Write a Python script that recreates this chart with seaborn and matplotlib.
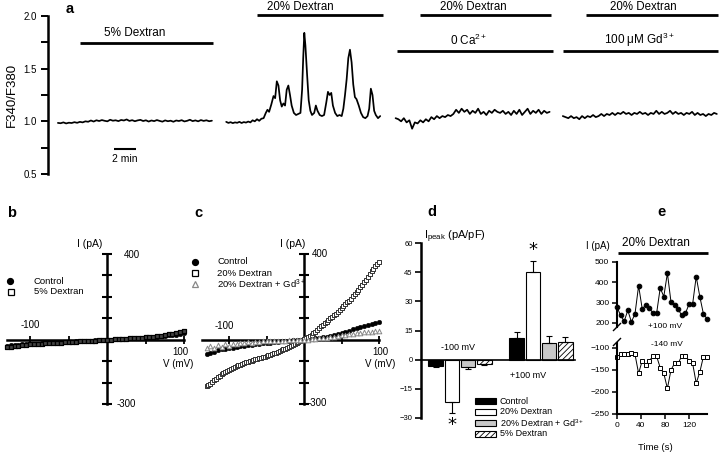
import numpy as np
import pandas as pd
import matplotlib
matplotlib.use("Agg")
import matplotlib.pyplot as plt
import seaborn as sns
from matplotlib.lines import Line2D
from matplotlib.patches import Rectangle

# ---------------- data ----------------
# panel a : F340/F380 ratio traces (time in min)
seg1_start, seg1_step = 0.9, 0.25
seg1_ratio = [0.985, 0.982, 0.990, 0.980, 0.987, 0.984, 0.992, 0.986, 0.995, 0.990,
              1.000, 0.996, 1.008, 0.998, 1.010, 1.003, 1.012, 1.005, 1.000, 1.015,
              1.006, 1.010, 1.002, 1.013, 1.008, 1.018, 1.004, 1.011, 1.001, 1.009,
              1.014, 1.003, 1.010, 0.998, 1.008, 1.002, 1.012, 1.004, 0.997, 1.009,
              1.001, 1.006, 0.996, 1.008, 1.003, 1.011, 0.999, 1.005, 1.015, 1.002,
              1.009, 1.000, 1.012, 1.004, 1.010, 1.001, 1.006]
seg2_time = [16.2, 16.4, 16.6, 16.8, 17.0, 17.2, 17.4, 17.6, 17.8, 18.0, 18.2, 18.4,
             18.6, 18.8, 19.0, 19.2, 19.4, 19.6, 19.8, 19.95, 20.1, 20.3, 20.5, 20.65,
             20.8, 20.95, 21.1, 21.25, 21.4, 21.55, 21.7, 21.85, 22.0, 22.15, 22.35,
             22.55, 22.75, 22.95, 23.1, 23.2, 23.3, 23.4, 23.55, 23.7, 23.85, 24.0,
             24.2, 24.35, 24.5, 24.7, 24.9, 25.1, 25.3, 25.45, 25.6, 25.75, 25.9,
             26.1, 26.3, 26.5, 26.7, 26.85, 27.0, 27.15, 27.3, 27.45, 27.6, 27.75,
             27.9, 28.05, 28.25, 28.45, 28.65, 28.85, 29.05, 29.2, 29.35, 29.5,
             29.65, 29.8, 30.0, 30.2]
seg2_ratio = [0.995, 0.985, 0.992, 0.983, 0.990, 0.986, 0.995, 0.984, 0.993, 0.988,
              0.998, 0.990, 1.010, 1.000, 1.020, 1.005, 1.025, 1.030, 1.080, 1.110,
              1.090, 1.160, 1.240, 1.220, 1.380, 1.340, 1.200, 1.140, 1.170, 1.150,
              1.300, 1.340, 1.250, 1.150, 1.080, 1.060, 1.070, 1.080, 1.300, 1.600,
              1.840, 1.720, 1.450, 1.200, 1.100, 1.060, 1.080, 1.150, 1.100, 1.060,
              1.050, 1.060, 1.180, 1.280, 1.250, 1.270, 1.150, 1.080, 1.050, 1.060,
              1.050, 1.120, 1.250, 1.400, 1.600, 1.680, 1.560, 1.350, 1.230, 1.210,
              1.150, 1.080, 1.040, 1.030, 1.050, 1.120, 1.310, 1.250, 1.100, 1.060,
              1.030, 1.050]
seg3_start, seg3_step = 31.6, 0.25
seg3_ratio = [1.03, 1.02, 1.00, 1.03, 0.99, 1.01, 0.93, 0.99, 0.98, 1.01, 0.99, 1.02,
              1.00, 1.04, 1.02, 1.05, 1.03, 1.05, 1.04, 1.06, 1.05, 1.07, 1.11, 1.08,
              1.12, 1.09, 1.11, 1.07, 1.10, 1.08, 1.12, 1.07, 1.09, 1.06, 1.10, 1.08,
              1.11, 1.09, 1.08, 1.10, 1.07, 1.09, 1.06, 1.10, 1.07, 1.11, 1.06, 1.09,
              1.12, 1.07, 1.10, 1.08, 1.11, 1.07, 1.10, 1.08, 1.09]
seg4_start, seg4_step = 46.8, 0.25
seg4_ratio = [1.05, 1.04, 1.03, 1.05, 1.03, 1.04, 1.02, 1.05, 1.03, 1.05, 1.04, 1.06,
              1.04, 1.05, 1.07, 1.05, 1.07, 1.06, 1.08, 1.06, 1.08, 1.07, 1.09, 1.07,
              1.08, 1.06, 1.08, 1.07, 1.09, 1.07, 1.08, 1.06, 1.08, 1.07, 1.10, 1.07,
              1.09, 1.07, 1.08, 1.10, 1.07, 1.09, 1.07, 1.08, 1.06, 1.08, 1.07, 1.09,
              1.06, 1.08, 1.06, 1.07, 1.05, 1.07, 1.06, 1.08, 1.07]

# panels b, c : I-V ramps (mV, pA)
iv_voltage = [-130, -125, -120, -115, -110, -105, -100, -95, -90, -85, -80, -75, -70,
              -65, -60, -55, -50, -45, -40, -35, -30, -25, -20, -15, -10, -5, 0, 5,
              10, 15, 20, 25, 30, 35, 40, 45, 50, 55, 60, 65, 70, 75, 80, 85, 90, 95, 100]
b_control = [-28, -26, -25, -24, -22, -21, -20, -19, -18, -17, -16, -15, -14, -13, -12,
             -11, -10, -9, -8, -7, -6, -5, -4, -3, -2, -1, 0, 1, 2, 3, 4, 5, 6, 7, 8,
             9, 10, 11, 13, 14, 16, 18, 20, 22, 24, 27, 30]
b_dextran5 = [-35, -32, -30, -28, -26, -24, -22, -21, -20, -18, -17, -16, -15, -14, -13,
              -12, -11, -10, -9, -8, -7, -6, -5, -4, -3, -2, 0, 1, 2, 3, 4, 5, 6, 7, 8,
              9, 11, 12, 14, 16, 19, 22, 25, 28, 32, 37, 42]
c_control = [-68, -62, -55, -50, -45, -42, -40, -37, -34, -31, -28, -26, -23, -21, -19,
             -17, -15, -13, -11, -10, -8, -6, -5, -3, -2, -1, 0, 2, 4, 6, 9, 11, 14, 18,
             22, 27, 32, 37, 42, 48, 54, 59, 64, 69, 74, 79, 85]
c_dextran20_gd = [-38, -30, -40, -25, -33, -22, -28, -18, -22, -14, -16, -12, -13, -10,
                  -10, -8, -8, -7, -6, -5, -5, -4, -3, -2, -2, -1, 0, 1, 3, 4, 6, 8, 10,
                  12, 15, 17, 20, 22, 25, 27, 30, 32, 34, 36, 38, 40, 42]
# 20 % dextran ramp read at a finer voltage spacing
iv_voltage_fine = [-130, -127.5, -125, -122.5, -120, -117.5, -115, -112.5, -110, -107.5,
                   -105, -102.5, -100, -97.5, -95, -92.5, -90, -87.5, -85, -82.5, -80,
                   -77.5, -75, -72.5, -70, -67.5, -65, -62.5, -60, -57.5, -55, -52.5,
                   -50, -47.5, -45, -42.5, -40, -37.5, -35, -32.5, -30, -27.5, -25,
                   -22.5, -20, -17.5, -15, -12.5, -10, -7.5, -5, -2.5, 0, 2.5, 5, 7.5,
                   10, 12.5, 15, 17.5, 20, 22.5, 25, 27.5, 30, 32.5, 35, 37.5, 40,
                   42.5, 45, 47.5, 50, 52.5, 55, 57.5, 60, 62.5, 65, 67.5, 70, 72.5,
                   75, 77.5, 80, 82.5, 85, 87.5, 90, 92.5, 95, 97.5, 100]
c_dextran20 = [-215, -211, -205, -197, -190, -183, -175, -168, -162, -156, -150, -144,
               -140, -136, -132, -127, -124, -120, -116, -112, -109, -106, -103, -99,
               -97, -94, -92, -89, -87, -85, -82, -79, -76, -73, -70, -66, -63, -60,
               -56, -53, -49, -45, -41, -37, -32, -28, -23, -19, -15, -11, -7, -3, 2,
               7, 12, 18, 24, 31, 38, 46, 55, 62, 70, 77, 85, 92, 100, 107, 115, 122,
               130, 138, 147, 156, 165, 174, 183, 192, 202, 212, 222, 233, 245, 256,
               268, 281, 295, 307, 320, 331, 342, 352, 362]

# panel d : peak current density (pA/pF)
d_groups = ['-100 mV', '+100 mV']
d_conditions = ['Control', '20% Dextran', '20% Dextran + Gd3+', '5% Dextran']
d_legend_labels = ['Control', '20% Dextran', '20% Dextran + Gd$^{3+}$', '5% Dextran']
d_mean_neg = [-3.0, -22.0, -3.6, -2.0]
d_sem_neg = [0.7, 5.5, 1.4, 0.8]
d_mean_pos = [11.0, 45.0, 8.7, 9.0]
d_sem_pos = [3.0, 6.0, 3.3, 2.5]

# panel e : time course (s, pA)
e_time = [0, 6, 12, 18, 24, 30, 36, 42, 48, 54, 60, 66, 72, 78, 84, 90, 96, 102, 108,
          114, 120, 126, 132, 138, 144, 150]
e_pos100 = [278, 237, 208, 262, 205, 245, 383, 270, 287, 275, 247, 247, 372, 330, 445,
            303, 288, 267, 237, 247, 292, 292, 428, 330, 245, 220]
e_neg140 = [-121, -115, -115, -115, -111, -115, -158, -129, -139, -129, -119, -119,
            -145, -158, -192, -150, -135, -135, -118, -118, -129, -135, -180, -155,
            -120, -120]

# ---------------- style ----------------
sns.set_theme(style="ticks", rc={"axes.edgecolor": "black", "xtick.color": "black",
                                 "ytick.color": "black", "text.color": "black",
                                 "axes.labelcolor": "black"})
plt.rcParams['font.family'] = ['Liberation Sans', 'DejaVu Sans']
plt.rcParams['mathtext.fontset'] = 'custom'
plt.rcParams['mathtext.rm'] = 'Liberation Sans'
plt.rcParams['mathtext.it'] = 'Liberation Sans:italic'
plt.rcParams['mathtext.bf'] = 'Liberation Sans:bold'
plt.rcParams['hatch.linewidth'] = 0.6

W, H = 720, 454
fig = plt.figure(figsize=(7.2, 4.54), dpi=100)
fig.patch.set_facecolor('white')


def box(x0, y0, x1, y1):
    return [x0 / W, 1 - y1 / H, (x1 - x0) / W, (y1 - y0) / H]


def P(x, y):
    return (x / W, 1 - y / H)


def ftext(x, y, s, size=7, ha='center', va='center', **kw):
    fig.text(*P(x, y), s, fontsize=size, ha=ha, va=va, **kw)


def fline(x0, y0, x1, y1, lw=1.8):
    fig.add_artist(Line2D([x0 / W, x1 / W], [1 - y0 / H, 1 - y1 / H],
                          transform=fig.transFigure, color='black', lw=lw,
                          solid_capstyle='butt'))


def fmarker(x, y, **kw):
    fig.add_artist(Line2D([x / W], [1 - y / H], transform=fig.transFigure,
                          ls='none', **kw))


# ---------------- panel a ----------------
axA = fig.add_axes(box(48, 16, 720, 174))
frames = [
    pd.DataFrame({'t': seg1_start + seg1_step * np.arange(len(seg1_ratio)), 'r': seg1_ratio, 'seg': 's1'}),
    pd.DataFrame({'t': seg2_time, 'r': seg2_ratio, 'seg': 's2'}),
    pd.DataFrame({'t': seg3_start + seg3_step * np.arange(len(seg3_ratio)), 'r': seg3_ratio, 'seg': 's3'}),
    pd.DataFrame({'t': seg4_start + seg4_step * np.arange(len(seg4_ratio)), 'r': seg4_ratio, 'seg': 's4'}),
]
dfa = pd.concat(frames, ignore_index=True)
sns.lineplot(data=dfa, x='t', y='r', units='seg', estimator=None, color='black',
             linewidth=1.25, ax=axA, legend=False)
axA.set_xlim(0, 61.09)
axA.set_ylim(0.5, 2.0)
for s in ['top', 'right', 'bottom']:
    axA.spines[s].set_visible(False)
axA.spines['left'].set_linewidth(1.8)
axA.set_xticks([])
axA.set_xlabel('')
axA.set_yticks([0.5, 1.0, 1.5, 2.0])
axA.set_yticklabels(['0.5', '1.0', '1.5', '2.0'])
axA.set_yticks([0.75, 1.25, 1.75], minor=True)
axA.tick_params(axis='y', which='both', direction='out', length=5, width=1.4,
                labelsize=7, pad=3)
axA.set_ylabel('F340/F380', fontsize=9.5)
axA.yaxis.set_label_coords(-0.045, 0.5)


def abar(x0, x1, y, lw=2.0):
    axA.plot([x0, x1], [y, y], color='black', lw=lw, clip_on=False, solid_capstyle='butt')


abar(2.9, 15.0, 1.74)
axA.text(7.9, 1.837, '5% Dextran', fontsize=8.5, ha='center', va='center')
abar(19.0, 30.45, 2.01)
abar(33.8, 45.7, 2.01)
abar(48.9, 60.9, 2.01)
ftext(300, 7, '20% Dextran', size=8.3)
ftext(473, 7, '20% Dextran', size=8.3)
ftext(643, 7, '20% Dextran', size=8.3)
abar(31.7, 45.9, 1.663)
axA.text(38.2, 1.77, '0 Ca$^{2+}$', fontsize=8.5, ha='center', va='center')
abar(46.8, 60.9, 1.663)
axA.text(53.8, 1.77, '100 μM Gd$^{3+}$', fontsize=8.5, ha='center', va='center')
abar(6.0, 8.0, 0.74, lw=1.5)
axA.text(7.0, 0.64, '2 min', fontsize=7.5, ha='center', va='center')
ftext(70, 9, 'a', size=10.5, weight='bold')


# ---------------- panels b, c (I-V) ----------------
def iv_axes(x_left, x_right, x_zero, px_per_100, v_lo):
    ax = fig.add_axes(box(x_left, 254, x_right, 404))
    ax.set_xlim((x_left - x_zero) / px_per_100 * 100, (x_right - x_zero) / px_per_100 * 100)
    ax.set_ylim(-300, 400)
    for s in ['top', 'right']:
        ax.spines[s].set_visible(False)
    ax.spines['left'].set_position(('data', 0))
    ax.spines['bottom'].set_position(('data', 0))
    ax.spines['left'].set_linewidth(1.8)
    ax.spines['bottom'].set_linewidth(1.8)
    ax.spines['bottom'].set_bounds(v_lo, 100)
    ax.spines['left'].set_bounds(-300, 400)
    ax.set_yticks([-300, -200, -100, 100, 200, 300, 400])
    ax.set_yticklabels([])
    ax.set_xticks([-100, -50, 50, 100])
    ax.set_xticklabels([])
    ax.tick_params(axis='y', direction='inout', length=7, width=1.5)
    ax.tick_params(axis='x', direction='inout', length=6, width=1.3)
    ax.set_xlabel('')
    ax.set_ylabel('')
    return ax


axB = iv_axes(5, 192, 107, 77, -130)
sns.scatterplot(x=iv_voltage, y=b_control, marker='o', s=11, color='black',
                edgecolor='black', linewidth=0.3, ax=axB, clip_on=False, zorder=3)
sns.scatterplot(x=iv_voltage, y=b_dextran5, marker='s', s=8, color='#444444',
                edgecolor='black', linewidth=0.9, ax=axB, clip_on=False, zorder=3)
ftext(90, 244, 'I (pA)', size=7.5)
ftext(124, 255, '400', size=7, ha='left')
ftext(117, 404, '-300', size=7, ha='left')
ftext(30, 325, '-100', size=7)
ftext(180, 352, '100', size=7)
ftext(178, 364, 'V (mV)', size=7)
fmarker(10, 281, marker='o', color='black', markersize=4.2)
fmarker(11, 292, marker='s', mfc='white', mec='black', markersize=3.8, mew=0.9)
ftext(33, 281, 'Control', size=6.8, ha='left')
ftext(34, 292, '5% Dextran', size=6.8, ha='left')
ftext(12, 213, 'b', size=10.5, weight='bold')

axC = iv_axes(190, 392, 304, 75, -136)
sns.scatterplot(x=iv_voltage, y=c_control, marker='o', s=11, color='black',
                edgecolor='black', linewidth=0.3, ax=axC, clip_on=False, zorder=3)
sns.scatterplot(x=iv_voltage_fine, y=c_dextran20, marker='s', s=8, color='white',
                edgecolor='#333333', linewidth=0.7, ax=axC, clip_on=False, zorder=3)
sns.scatterplot(x=iv_voltage, y=c_dextran20_gd, marker='^', s=11, color='white',
                edgecolor='#888888', linewidth=0.7, ax=axC, clip_on=False, zorder=4)
ftext(293, 244, 'I (pA)', size=7.5)
ftext(312, 254, '400', size=7, ha='left')
ftext(308, 403, '-300', size=7, ha='left')
ftext(224, 326, '-100', size=7)
ftext(380, 352, '100', size=7)
ftext(380, 364, 'V (mV)', size=7)
fmarker(195, 262, marker='o', color='black', markersize=4.2)
fmarker(195, 273, marker='s', mfc='white', mec='black', markersize=3.8, mew=0.9)
fmarker(195, 284, marker='^', mfc='white', mec='#888888', markersize=4.4, mew=0.9)
ftext(217, 262, 'Control', size=6.8, ha='left')
ftext(217, 273, '20% Dextran', size=6.8, ha='left')
ftext(217, 284, '20% Dextran + Gd$^{3+}$', size=6.8, ha='left')
ftext(198, 213, 'c', size=10.5, weight='bold')

# ---------------- panel d ----------------
axD = fig.add_axes(box(421, 243, 575, 418))
rows = []
for g, means in zip(d_groups, [d_mean_neg, d_mean_pos]):
    for c, m in zip(d_conditions, means):
        rows.append({'group': g, 'cond': c, 'value': m})
dfd = pd.DataFrame(rows)
d_colors = ['black', 'white', '#c8c8c8', 'white']
sns.barplot(data=dfd, x='group', y='value', hue='cond', order=d_groups,
            hue_order=d_conditions, palette=d_colors, saturation=1, edgecolor='black',
            linewidth=0.8, errorbar=None, gap=0.1, legend=False, ax=axD)
bar_conts = list(axD.containers)
for bar in bar_conts[3]:
    bar.set_hatch('//////')
all_means = [d_mean_neg, d_mean_pos]
all_sems = [d_sem_neg, d_sem_pos]
for ci, cont in enumerate(bar_conts):
    for gi, bar in enumerate(cont):
        m = all_means[gi][ci]
        e = all_sems[gi][ci]
        xc = bar.get_x() + bar.get_width() / 2
        yerr = [[e], [0]] if m < 0 else [[0], [e]]
        axD.errorbar([xc], [m], yerr=yerr, fmt='none', ecolor='black', elinewidth=0.8,
                     capsize=2.5, capthick=0.8, zorder=1)
axD.set_xlim(-0.48, 1.42)
axD.set_ylim(-30, 60)
for s in ['top', 'right']:
    axD.spines[s].set_visible(False)
axD.spines['bottom'].set_position(('data', 0))
axD.spines['bottom'].set_linewidth(1.2)
axD.spines['left'].set_linewidth(1.8)
axD.set_xticks([])
axD.set_xlabel('')
axD.set_ylabel('')
axD.set_yticks([-30, -15, 0, 15, 30, 45, 60])
axD.tick_params(axis='y', direction='out', length=4, width=1.2, labelsize=5.5, pad=2)
# asterisks
b_neg = bar_conts[1][0]
b_pos = bar_conts[1][1]
axD.text(b_neg.get_x() + b_neg.get_width() / 2, -33.5, '*', fontsize=13, ha='center',
         va='center', clip_on=False, family='DejaVu Sans')
axD.text(b_pos.get_x() + b_pos.get_width() / 2, 56.5, '*', fontsize=13, ha='center',
         va='center', clip_on=False, family='DejaVu Sans')
ftext(424, 237, 'I$_{\\rm peak}$ (pA/pF)', size=8, ha='left')
ftext(458, 348, '-100 mV', size=6.5)
ftext(528, 376, '+100 mV', size=6.5)
for i, (lab, col) in enumerate(zip(d_legend_labels, d_colors)):
    yy = 401 + 11 * i
    r = Rectangle(P(475, yy + 3), 21 / W, 6 / H, transform=fig.transFigure,
                  facecolor=col, edgecolor='black', lw=0.8,
                  hatch='//////' if i == 3 else None)
    fig.add_artist(r)
    ftext(500, yy, lab, size=6.5, ha='left')
ftext(432, 212, 'd', size=10.5, weight='bold')

# ---------------- panel e ----------------
axE1 = fig.add_axes(box(617, 262, 707, 327))
axE2 = fig.add_axes(box(617, 343, 707, 414))
sns.lineplot(x=e_time, y=e_pos100, estimator=None, sort=False, color='black',
             linewidth=0.7, marker='o', markersize=3.3, markeredgecolor='black',
             ax=axE1, clip_on=False)
sns.lineplot(x=e_time, y=e_neg140, estimator=None, sort=False, color='black',
             linewidth=0.7, marker='s', markersize=3.2, markerfacecolor='white',
             markeredgecolor='black', markeredgewidth=0.7, ax=axE2, clip_on=False)
for ax in (axE1, axE2):
    ax.set_xlim(0, 150)
    ax.set_xlabel('')
    ax.set_ylabel('')
    for s in ['top', 'right']:
        ax.spines[s].set_visible(False)
    ax.spines['left'].set_linewidth(1.5)
    ax.tick_params(direction='out', length=3.5, width=1.1, labelsize=6, pad=2)
axE1.set_ylim(180, 500)
axE1.spines['bottom'].set_visible(False)
axE1.set_xticks([])
axE1.set_yticks([200, 300, 400, 500])
axE2.set_ylim(-250, -89)
axE2.set_yticks([-250, -200, -150, -100])
axE2.set_xticks([0, 40, 80, 120])
axE2.spines['bottom'].set_linewidth(1.5)
fline(613, 331, 621, 323, lw=1.0)
fline(613, 346, 621, 338, lw=1.0)
ftext(656, 243, '20% Dextran', size=8.5)
fline(618, 253, 708, 253, lw=2.0)
ftext(598, 246, 'I (pA)', size=7)
ftext(665, 326, '+100 mV', size=6)
ftext(667, 345, '-140 mV', size=6)
ftext(655, 447, 'Time (s)', size=6.8)
ftext(661, 212, 'e', size=10.5, weight='bold')

fig.savefig('out.png', dpi=100, facecolor='white')
